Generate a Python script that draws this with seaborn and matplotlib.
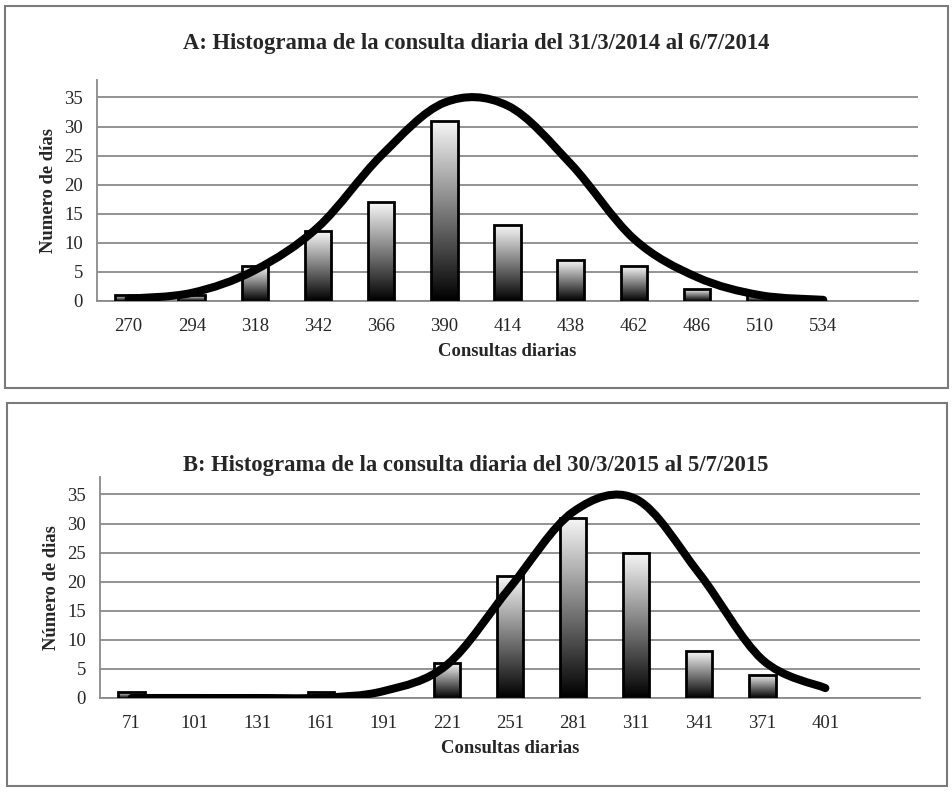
import numpy as np
import pandas as pd
import matplotlib
matplotlib.use("Agg")
import matplotlib.pyplot as plt
import seaborn as sns
from matplotlib.path import Path
from matplotlib.patches import PathPatch, Rectangle

# Panel A: 31/3/2014 - 6/7/2014
cats_a = ["270", "294", "318", "342", "366", "390", "414", "438", "462", "486", "510", "534"]
dias_a = [1, 1, 6, 12, 17, 31, 13, 7, 6, 2, 1, 0]
curva_a = [0.4, 1.4, 5.3, 12.7, 25.0, 34.1, 33.6, 23.6, 10.7, 4.1, 1.0, 0.2]

# Panel B: 30/3/2015 - 5/7/2015
cats_b = ["71", "101", "131", "161", "191", "221", "251", "281", "311", "341", "371", "401"]
dias_b = [1, 0, 0, 1, 0, 6, 21, 31, 25, 8, 4, 0]
curva_b = [0.0, 0.0, 0.0, 0.05, 1.2, 5.7, 19.0, 32.0, 34.2, 21.4, 6.6, 1.7]

titulo_a = "A: Histograma de la consulta diaria del 31/3/2014 al 6/7/2014"
titulo_b = "B: Histograma de la consulta diaria del 30/3/2015 al 5/7/2015"

sns.set_style("white")
plt.rcParams["font.family"] = ["Liberation Serif", "DejaVu Serif"]

GRIS = "#8a8a8a"
W, H = 953, 792


def curva_suave(ax, ys):
    # smoothed line like excel does it (bezier through the points)
    pts = np.column_stack([np.arange(len(ys), dtype=float), np.asarray(ys, float)])
    ext = np.vstack([pts[0], pts, pts[-1]])
    verts = [pts[0]]
    codes = [Path.MOVETO]
    for i in range(len(pts) - 1):
        p0, p1, p2, p3 = ext[i], ext[i + 1], ext[i + 2], ext[i + 3]
        verts += [p1 + (p2 - p0) / 6, p2 - (p3 - p1) / 6, p2]
        codes += [Path.CURVE4] * 3
    ax.add_patch(PathPatch(Path(verts, codes), fill=False, lw=5.8, ec="black",
                           capstyle="round", joinstyle="round", zorder=5))


def panel(ax, cats, dias, curva, ylab):
    df = pd.DataFrame({"cat": cats, "dias": dias})
    sns.barplot(data=df, x="cat", y="dias", order=cats, width=0.42, color="white",
                edgecolor="black", linewidth=2.0, ax=ax, zorder=3)
    grad = np.linspace(0.0, 0.97, 256).reshape(-1, 1)
    for p in ax.patches:
        h = p.get_height()
        if h <= 0:
            p.set_linewidth(0)
            continue
        x0, w = p.get_x(), p.get_width()
        im = ax.imshow(grad, cmap="gray", vmin=0, vmax=1, origin="lower", aspect="auto",
                       extent=[x0, x0 + w, 0, h], zorder=2.5, interpolation="bilinear")
        im.set_clip_path(p)
        p.set_facecolor("none")
    curva_suave(ax, curva)

    ax.set_xlim(-0.5, len(cats) + 0.5)
    ax.set_ylim(0, 38)
    ax.set_yticks(range(0, 36, 5))
    ax.set_xticks(range(len(cats)))
    ax.set_xticklabels(cats)
    ax.set_xticks(np.arange(-0.5, len(cats) + 1, 1), minor=True)
    ax.yaxis.grid(True, color=GRIS, lw=1.3)
    ax.set_axisbelow(True)
    for s in ["top", "right"]:
        ax.spines[s].set_visible(False)
    for s in ["left", "bottom"]:
        ax.spines[s].set_color(GRIS)
        ax.spines[s].set_linewidth(1.3)
    ax.tick_params(axis="x", which="major", length=0, pad=12, labelsize=13.5)
    ax.tick_params(axis="x", which="minor", length=5, width=1.3, color=GRIS, direction="out")
    ax.tick_params(axis="y", length=5, width=1.3, color=GRIS, direction="out", pad=5, labelsize=13.5)
    ax.set_xlabel("Consultas diarias", fontweight="bold", fontsize=13.4, labelpad=6)
    ax.set_ylabel(ylab, fontweight="bold", fontsize=13.4, labelpad=5)


fig = plt.figure(figsize=(W / 100, H / 100), dpi=100)

ax_a = fig.add_axes([97 / W, 1 - 301 / H, (918 - 97) / W, (301 - 80) / H])
panel(ax_a, cats_a, dias_a, curva_a, "Numero de días")

ax_b = fig.add_axes([100 / W, 1 - 698 / H, (920 - 100) / W, (698 - 477) / H])
panel(ax_b, cats_b, dias_b, curva_b, "Número de dias")

fig.text(476 / W, 1 - 43 / H, titulo_a, ha="center", va="center", fontsize=16.3, fontweight="bold")
fig.text(476 / W, 1 - 466 / H, titulo_b, ha="center", va="center", fontsize=16.3, fontweight="bold")

# the two grey frames around the panels
fig.add_artist(Rectangle((5 / W, 1 - 388 / H), 943 / W, 382 / H, transform=fig.transFigure,
                         fill=False, ec="#7a7a7a", lw=1.5))
fig.add_artist(Rectangle((7 / W, 1 - 786 / H), 940 / W, 383 / H, transform=fig.transFigure,
                         fill=False, ec="#7a7a7a", lw=1.5))

fig.savefig("out.png", dpi=100)
